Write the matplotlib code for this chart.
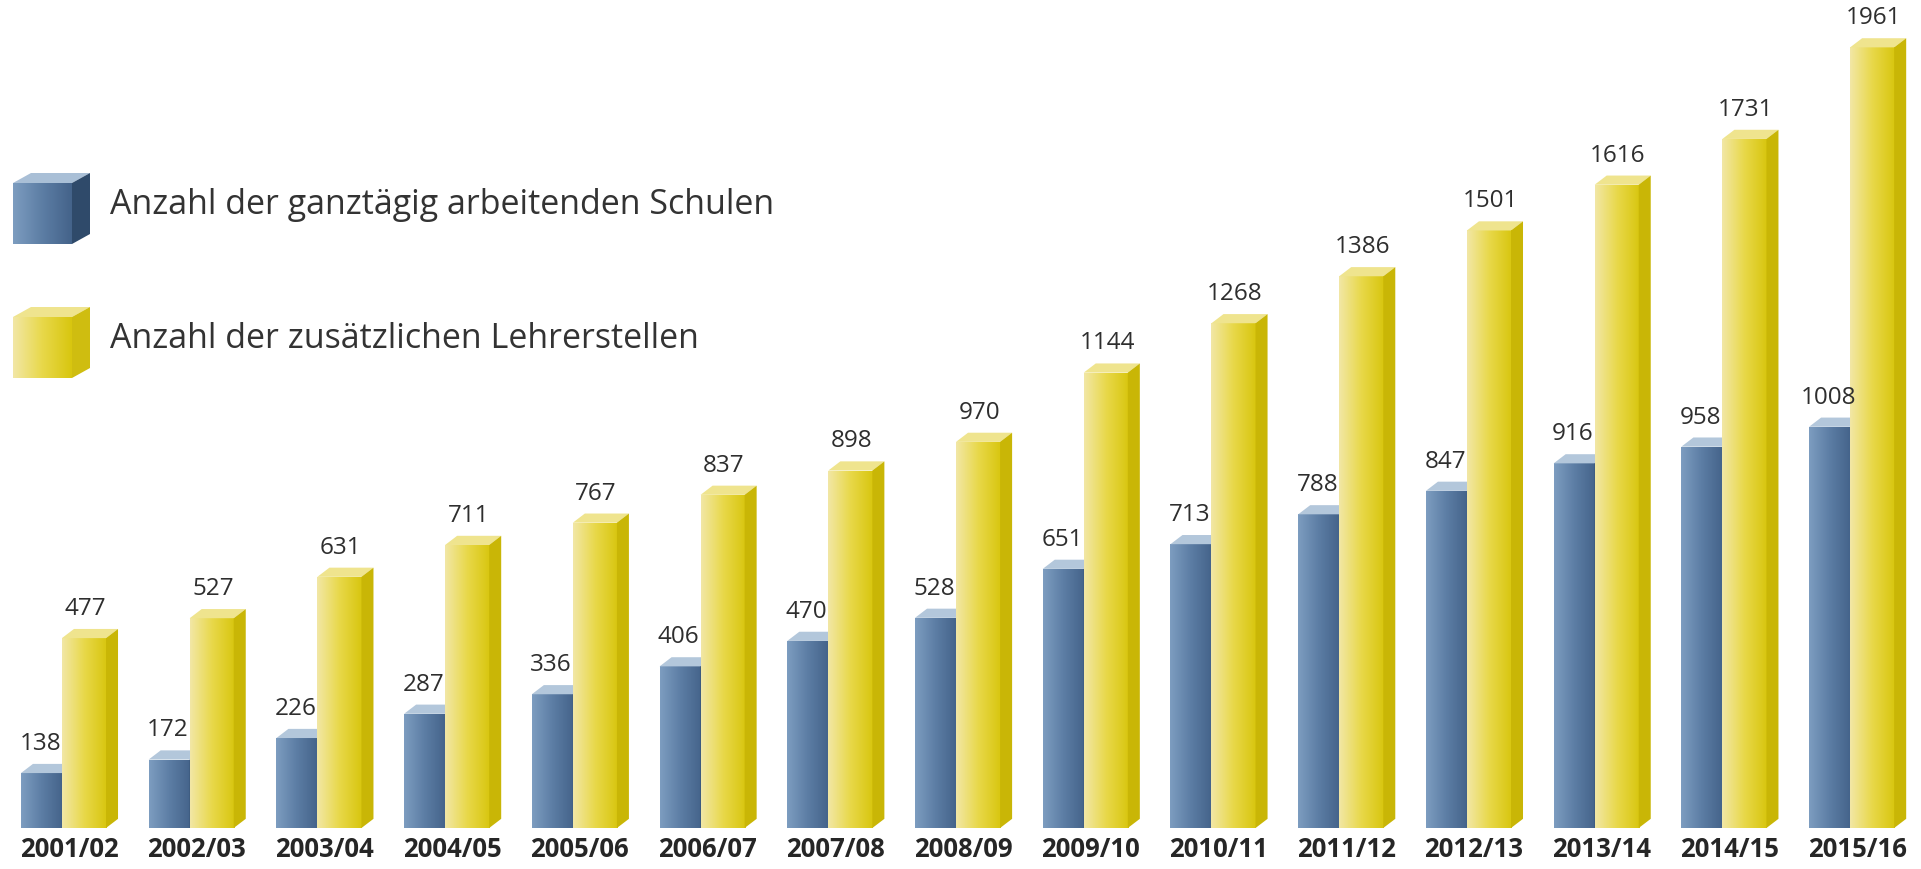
import matplotlib
matplotlib.use("Agg")
import matplotlib.pyplot as plt
import numpy as np
from matplotlib.colors import LinearSegmentedColormap
from matplotlib.patches import Polygon

years = ["2001/02", "2002/03", "2003/04", "2004/05", "2005/06", "2006/07", "2007/08",
         "2008/09", "2009/10", "2010/11", "2011/12", "2012/13", "2013/14", "2014/15", "2015/16"]
schulen = [138, 172, 226, 287, 336, 406, 470, 528, 651, 713, 788, 847, 916, 958, 1008]
lehrer = [477, 527, 631, 711, 767, 837, 898, 970, 1144, 1268, 1386, 1501, 1616, 1731, 1961]
labels = ["Anzahl der ganztägig arbeitenden Schulen", "Anzahl der zusätzlichen Lehrerstellen"]

blue_cmap = LinearSegmentedColormap.from_list("b", ["#7d9dc0", "#5c7da4", "#44638a"])
yellow_cmap = LinearSegmentedColormap.from_list("y", ["#f2e7a6", "#e8d849", "#d8c60f"])
blue_top, blue_side = "#b3c7db", "#34506f"
yellow_top, yellow_side = "#efe48e", "#c9b606"

TXT = "#2e2e2e"
plt.rcParams["font.family"] = ["Open Sans", "DejaVu Sans"]

fig = plt.figure(figsize=(19.21, 8.69), dpi=100)
ax = fig.add_axes([0, 0, 1, 1])
ax.set_xlim(-0.54, 14.50)
ax.set_ylim(-103, 2080)
ax.axis("off")

x = np.arange(len(years))
bw, yw = 0.321, 0.345   # front widths
dx, dy = 0.094, 23      # 3d depth (x in group units, y in data units)
grad = np.linspace(0, 1, 256).reshape(1, -1)


def bar3d(x0, w, h, cmap, top, side, z):
    rect = ax.bar(x0, h, w, align="edge", color="none", linewidth=0, zorder=z)[0]
    im = ax.imshow(grad, cmap=cmap, extent=[x0, x0 + w, 0, h], aspect="auto",
                   zorder=z, interpolation="bilinear")
    im.set_clip_path(rect)
    x1 = x0 + w
    ax.add_patch(Polygon([(x0, h), (x1, h), (x1 + dx, h + dy), (x0 + dx, h + dy)],
                         closed=True, fc=top, ec="none", zorder=z))
    ax.add_patch(Polygon([(x1, 0), (x1 + dx, dy), (x1 + dx, h + dy), (x1, h)],
                         closed=True, fc=side, ec="none", zorder=z))


for i in x:
    b0 = i - 0.376
    y0 = b0 + bw
    bar3d(b0, bw, schulen[i], blue_cmap, blue_top, blue_side, 2)
    bar3d(y0, yw, lehrer[i], yellow_cmap, yellow_top, yellow_side, 3)
    ax.text(b0 + bw / 2 - 0.01, schulen[i] + dy + 20, str(schulen[i]), ha="center",
            va="bottom", fontsize=17.5, color=TXT)
    ax.text(y0 + yw / 2 + 0.01, lehrer[i] + dy + 20, str(lehrer[i]), ha="center",
            va="bottom", fontsize=17.5, color=TXT)
    ax.text(i, -53, years[i], ha="center", va="center", fontsize=18.5,
            fontweight="bold", color="#262626")

ax.set_xlim(-0.54, 14.50)
ax.set_ylim(-103, 2080)

# legend with small cubes, in pixel units of the figure
lg = fig.add_axes([0, 0, 1, 1], facecolor="none")
lg.set_xlim(0, 1921)
lg.set_ylim(869, 0)
lg.axis("off")
cube_y = [183, 317]
for cy, cmap, top, side, lab in zip(cube_y, [blue_cmap, yellow_cmap],
                                     ["#a9bfd6", "#efe48e"], ["#2f4a6a", "#cfbd10"], labels):
    lg.imshow(grad, cmap=cmap, extent=[13, 72, cy + 61, cy], aspect="auto",
              interpolation="bilinear")
    lg.add_patch(Polygon([(13, cy), (72, cy), (90, cy - 10), (31, cy - 10)], fc=top, ec="none"))
    lg.add_patch(Polygon([(72, cy), (90, cy - 10), (90, cy + 51), (72, cy + 61)], fc=side, ec="none"))
    lg.text(110, cy + 22, lab, ha="left", va="center", fontsize=24.5, color="#333333")
lg.set_xlim(0, 1921)
lg.set_ylim(869, 0)

fig.savefig("out.png", dpi=100, facecolor="white")
